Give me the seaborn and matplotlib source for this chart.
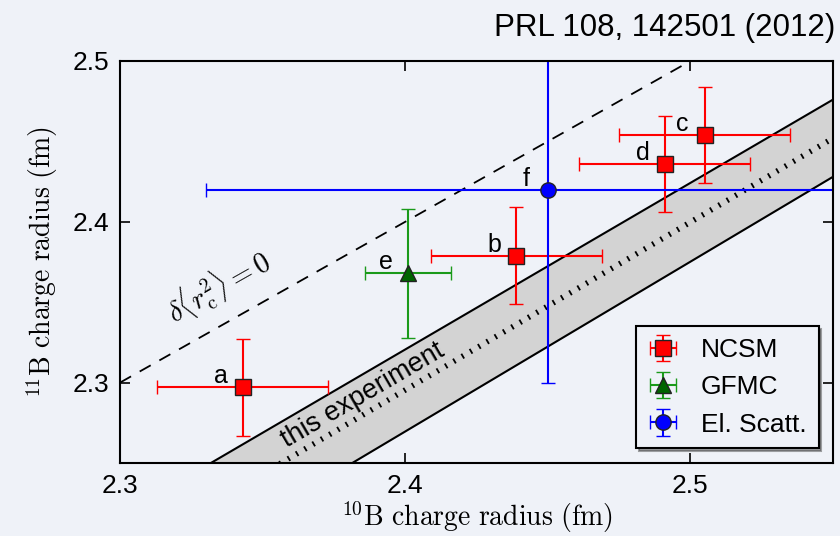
import numpy as np
import pandas as pd
import matplotlib
matplotlib.use("Agg")
import matplotlib.pyplot as plt
import seaborn as sns

# ---------------- data ----------------
labels = ["a", "b", "c", "d", "e", "f"]
groups = ["NCSM", "NCSM", "NCSM", "NCSM", "GFMC", "El. Scatt."]
r10 = [2.343, 2.439, 2.505, 2.491, 2.401, 2.450]
r10_err = [0.030, 0.030, 0.030, 0.030, 0.015, 0.120]
r11 = [2.297, 2.379, 2.454, 2.436, 2.368, 2.420]
r11_err = [0.030, 0.030, 0.030, 0.030, 0.040, 0.120]

# "this experiment" band (edges and centre line), and delta<r^2>=0 line
band_x = [2.30, 2.55]
band_upper = [2.217, 2.476]
band_center = [2.191, 2.452]
band_lower = [2.164, 2.428]
zero_x = [2.30, 2.55]
zero_y = [2.30, 2.55]

x_ticks = [2.3, 2.4, 2.5]
y_ticks = [2.3, 2.4, 2.5]

df = pd.DataFrame({"label": labels, "group": groups, "r10": r10,
                   "r10_err": r10_err, "r11": r11, "r11_err": r11_err})

# ---------------- style ----------------
sns.set_theme(style="ticks")
bg = "#eff2f8"
plt.rcParams["font.family"] = ["Liberation Sans", "DejaVu Sans"]
plt.rcParams["mathtext.fontset"] = "cm"
for k in ["text.color", "axes.labelcolor", "xtick.color", "ytick.color",
          "axes.edgecolor"]:
    plt.rcParams[k] = "black"

fig = plt.figure(figsize=(8.4, 5.36), dpi=100, facecolor=bg)
ax = fig.add_axes([0.1429, 0.1362, 0.8488, 0.75])
ax.set_facecolor(bg)

# band
ax.fill_between(band_x, band_lower, band_upper, color="#d3d3d3", zorder=1, lw=0)
sns.lineplot(x=band_x, y=band_upper, ax=ax, color="black", lw=1.5, zorder=2)
sns.lineplot(x=band_x, y=band_lower, ax=ax, color="black", lw=1.5, zorder=2)
sns.lineplot(x=band_x, y=band_center, ax=ax, color="black", lw=4.0,
             linestyle=(0, (0.33, 1.4)), zorder=2)
sns.lineplot(x=zero_x, y=zero_y, ax=ax, color="black", lw=1.3,
             linestyle=(0, (7, 5.5)), zorder=2)

styles = {
    "NCSM": dict(marker="s", color="red", mfc="red", ms=11),
    "GFMC": dict(marker="^", color="#1a9a1a", mfc="#006400", ms=11),
    "El. Scatt.": dict(marker="o", color="blue", mfc="blue", ms=11),
}
handles = []
for g in ["NCSM", "GFMC", "El. Scatt."]:
    sub = df[df.group == g]
    st = styles[g]
    h = ax.errorbar(sub.r10, sub.r11, xerr=sub.r10_err, yerr=sub.r11_err,
                    fmt=st["marker"], color=st["color"], mfc=st["mfc"],
                    mec="#222222", mew=1.0, ms=st["ms"], ecolor=st["color"],
                    elinewidth=1.5, capsize=5, capthick=1.5, label=g, zorder=4)
    handles.append(h)

for _, row in df.iterrows():
    ax.annotate(row.label, (row.r10, row.r11), xytext=(-22, 11),
                textcoords="offset pixels", ha="center", va="center",
                fontsize=18, zorder=5)

ax.text(2.3853, 2.2921, "this experiment", rotation=30.3, ha="center",
        va="center", fontsize=19.5, rotation_mode="anchor", zorder=3)
ax.text(2.3344, 2.3600, r"$\delta\langle r_{\rm c}^2\rangle = 0$",
        rotation=29.5, ha="center", va="center", fontsize=20.5,
        rotation_mode="anchor", zorder=3)

ax.set_xlim(2.3, 2.55)
ax.set_ylim(2.25, 2.5)
ax.set_xticks(x_ticks)
ax.set_yticks(y_ticks)
ax.set_xticklabels([f"{t:.1f}" for t in x_ticks])
ax.set_yticklabels([f"{t:.1f}" for t in y_ticks])
ax.tick_params(direction="in", length=7, width=1.2, top=True, right=True,
               labelsize=19, pad=8, colors="black")
for s in ax.spines.values():
    s.set_linewidth(1.5)
    s.set_color("black")
    s.set_zorder(6)

ax.set_xlabel(r"$^{10}\mathrm{B\ charge\ radius\ (fm)}$", fontsize=20, labelpad=1)
ax.set_ylabel(r"$^{11}\mathrm{B\ charge\ radius\ (fm)}$", fontsize=20, labelpad=9)

leg = ax.legend(handles=handles, loc="lower right", fontsize=19, frameon=True,
                fancybox=False, shadow=True, borderaxespad=0.55,
                handletextpad=0.9, labelspacing=0.5, borderpad=0.45,
                handlelength=1.1)
leg.get_frame().set_edgecolor("black")
leg.get_frame().set_linewidth(1.5)
leg.get_frame().set_facecolor(bg)
leg.set_zorder(7)

fig.text(0.995, 0.948, "PRL 108, 142501 (2012)", ha="right", va="center",
         fontsize=22.5, color="black")

fig.savefig("out.png", dpi=100, facecolor=bg)
